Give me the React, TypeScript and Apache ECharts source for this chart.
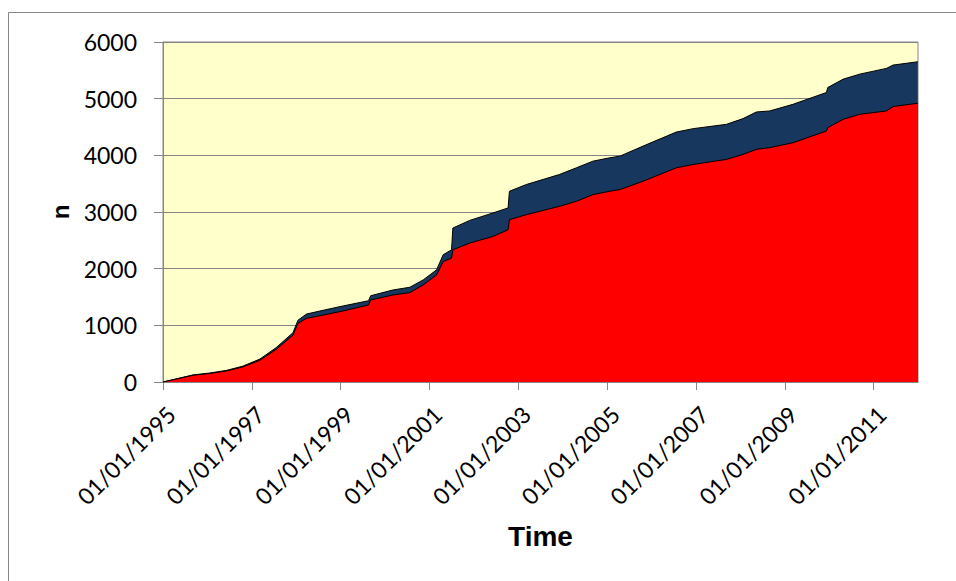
import React, { useEffect, useRef } from "react";
import * as echarts from "echarts";

const dates = [
  "1995-01-01", "1995-05-08", "1995-09-05", "1996-01-19", "1996-06-06", "1996-10-19",
  "1997-03-08", "1997-07-19", "1997-12-05", "1998-01-15", "1998-03-26", "1998-07-13",
  "1999-01-19", "1999-08-18", "1999-09-05", "2000-03-06", "2000-07-23", "2000-11-10",
  "2001-02-28", "2001-04-23", "2001-07-01", "2001-07-12", "2001-11-28", "2002-06-07",
  "2002-10-09", "2002-10-20", "2003-03-08", "2003-12-05", "2004-04-23", "2004-09-06",
  "2005-01-23", "2005-04-16", "2005-10-23", "2006-07-24", "2006-12-09", "2007-09-09",
  "2008-01-23", "2008-05-12", "2008-08-29", "2009-03-10", "2009-12-09", "2009-12-20",
  "2010-04-27", "2010-09-09", "2011-04-16", "2011-06-10", "2011-12-31",
];

// Lower (red) layer
const redValues = [
  0, 60, 119, 150, 195, 266,
  384, 574, 827, 1034, 1123, 1169,
  1252, 1359, 1447, 1536, 1577, 1713,
  1890, 2126, 2186, 2333, 2452, 2569,
  2687, 2864, 2953, 3100, 3189, 3307,
  3366, 3396, 3543, 3780, 3839, 3928,
  4016, 4105, 4135, 4223, 4429, 4489,
  4636, 4724, 4783, 4861, 4919,
];

// Upper (dark blue) layer, stacked on the red one
const blueValues = [
  0, 5, 6, 8, 10, 14,
  21, 31, 43, 56, 76, 83,
  89, 75, 75, 88, 95, 89,
  89, 119, 147, 384, 400, 414,
  385, 502, 532, 562, 591, 590,
  591, 590, 620, 631, 632, 619,
  632, 660, 648, 678, 680, 708,
  709, 709, 751, 732, 732,
];

const xTickLabels = [
  "01/01/1995", "01/01/1997", "01/01/1999", "01/01/2001", "01/01/2003",
  "01/01/2005", "01/01/2007", "01/01/2009", "01/01/2011",
];

const yTicks = [0, 1000, 2000, 3000, 4000, 5000, 6000];

const BASE = Date.UTC(1995, 0, 1);
const YEAR_MS = 365.25 * 86400000;
const toYears = (d: string) => {
  const [y, m, dd] = d.split("-").map(Number);
  return (Date.UTC(y, m - 1, dd) - BASE) / YEAR_MS;
};

export default function App() {
  const ref = useRef<HTMLDivElement>(null);

  useEffect(() => {
    if (!ref.current) return;
    const chart = echarts.init(ref.current, undefined, { renderer: "svg" });
    const xs = dates.map(toYears);
    const redData = xs.map((x, i) => [x, redValues[i]]);
    // stacked top of the blue layer = red + blue
    const totalData = xs.map((x, i) => [x, redValues[i] + blueValues[i]]);

    chart.setOption({
      animation: false,
      backgroundColor: "#ffffff",
      graphic: [
        {
          type: "rect",
          shape: { x: 8.5, y: 12.5, width: 1000, height: 1000 },
          style: { fill: "none", stroke: "#868686", lineWidth: 1 },
          silent: true,
          z: -10,
        },
      ],
      grid: {
        left: 163,
        top: 42,
        right: 38,
        bottom: 199,
        show: true,
        backgroundColor: "#FFFFCC",
        borderColor: "#868686",
        borderWidth: 1,
      },
      xAxis: {
        type: "value",
        min: 0,
        max: 17,
        interval: 2,
        name: "Time",
        nameLocation: "middle",
        nameGap: 140,
        nameTextStyle: {
          fontFamily: "Liberation Sans",
          fontWeight: "bold",
          fontSize: 28,
          color: "#000000",
        },
        axisLine: { show: true, lineStyle: { color: "#868686", width: 1 } },
        axisTick: { show: true, inside: false, length: 8, lineStyle: { color: "#868686" } },
        splitLine: { show: false },
        axisLabel: {
          rotate: 45,
          margin: 20,
          verticalAlign: "top",
          fontFamily: "Lato",
          fontSize: 23,
          color: "#000000",
          showMaxLabel: false,
          formatter: (v: number) => {
            const r = Math.round(v);
            if (Math.abs(v - r) > 1e-6 || r % 2 !== 0) return "";
            return xTickLabels[r / 2] ?? "";
          },
        },
      },
      yAxis: {
        type: "value",
        min: yTicks[0],
        max: yTicks[yTicks.length - 1],
        interval: 1000,
        name: "n",
        nameLocation: "middle",
        nameRotate: 90,
        nameGap: 73,
        nameTextStyle: {
          fontFamily: "Liberation Sans",
          fontWeight: "bold",
          fontSize: 24,
          color: "#000000",
        },
        axisLine: { show: true, lineStyle: { color: "#868686", width: 1 } },
        axisTick: { show: true, inside: false, length: 9, lineStyle: { color: "#868686" } },
        splitLine: { show: true, lineStyle: { color: "#868686", width: 1 } },
        axisLabel: {
          margin: 26,
          fontFamily: "Lato",
          fontSize: 23,
          color: "#000000",
          formatter: (v: number) => String(v),
        },
      },
      series: [
        {
          type: "line",
          name: "B",
          data: totalData,
          symbol: "none",
          lineStyle: { color: "#000000", width: 1 },
          areaStyle: { color: "#17375E", opacity: 1 },
          itemStyle: { color: "#17375E" },
          z: 2,
        },
        {
          type: "line",
          name: "A",
          data: redData,
          symbol: "none",
          lineStyle: { color: "#000000", width: 1 },
          areaStyle: { color: "#FF0000", opacity: 1 },
          itemStyle: { color: "#FF0000" },
          z: 3,
        },
      ],
    });

    return () => chart.dispose();
  }, []);

  return (
    <div
      ref={ref}
      style={{ position: "fixed", left: 0, top: 0, width: 956, height: 581 }}
    />
  );
}
